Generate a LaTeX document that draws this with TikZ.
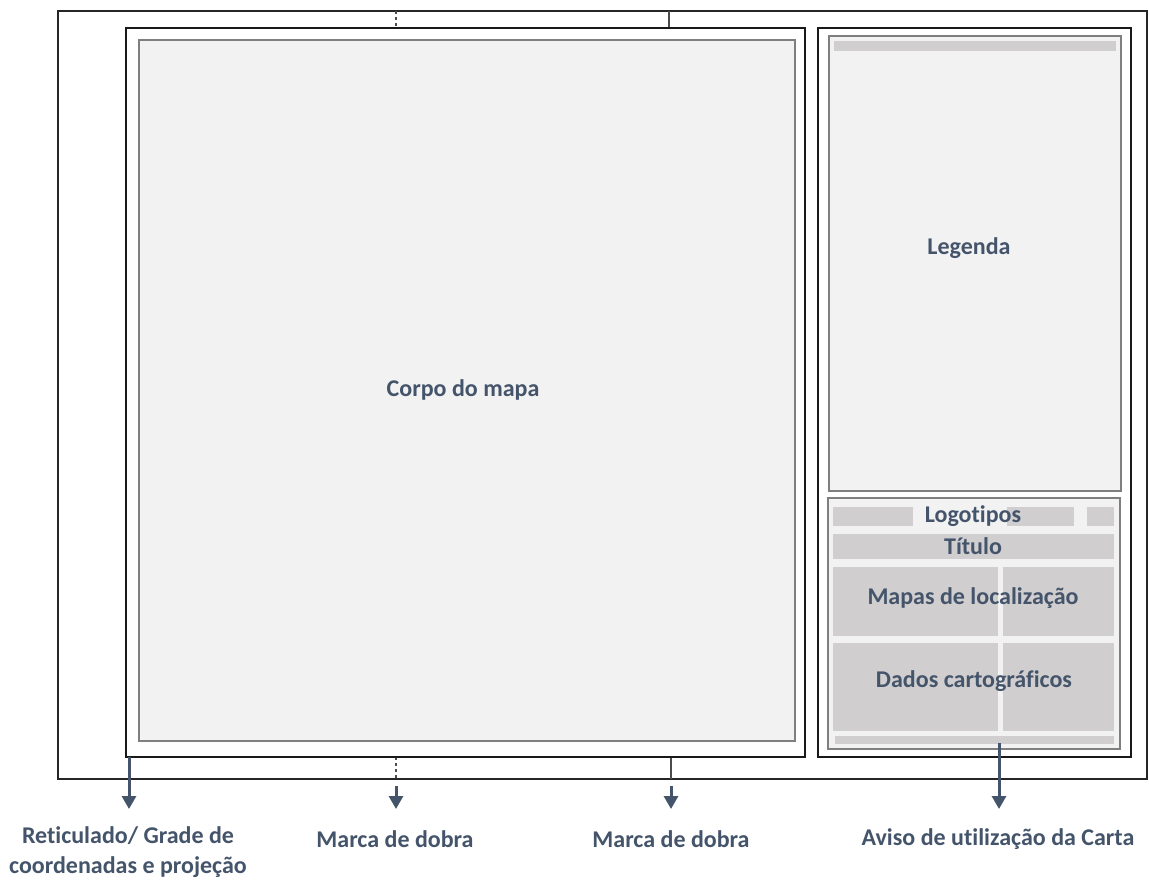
\documentclass[tikz,border=0pt]{standalone}
\usepackage{fontspec}
\setmainfont{Carlito}[Ligatures=NoCommon]
\usetikzlibrary{arrows.meta}
\definecolor{txt}{HTML}{44546A}
\definecolor{paper}{HTML}{F2F2F2}
\definecolor{block}{HTML}{D0CECE}
\definecolor{edge}{HTML}{7F7F7F}
\tikzset{
  frame/.style={draw=black!85, line width=1.6pt},
  thickframe/.style={draw=black!90, line width=2.2pt},
  panel/.style={draw=edge, line width=1.8pt, fill=paper},
  blk/.style={fill=block, draw=none},
  lbl/.style={text=txt, font=\fontsize{24}{29}\selectfont\bfseries, inner sep=0pt},
  pointer/.style={draw=txt, line width=3pt, -{Triangle[length=13pt,width=14pt]}},
  fold/.style={draw=black!70, line width=1.2pt},
}
\begin{document}
\begin{tikzpicture}[x=1pt,y=-1pt]
\useasboundingbox (0,0) rectangle (1149,881);
% outer sheet
\draw[frame] (58,11) rectangle (1147,779);
% fold marks
\draw[fold, dash pattern=on 3pt off 3pt] (396,11) -- (396,28);
\draw[fold, dash pattern=on 3pt off 3pt] (396,757) -- (396,779);
\draw[fold] (669,11) -- (669,28);
\draw[fold] (671,757) -- (671,779);
% map frame
\draw[thickframe, fill=white] (126,28) rectangle (805,757);
\draw[panel, line width=1.5pt] (139,40) rectangle (795,741);
\node[lbl] (corpo) at (463,390) {Corpo do mapa};
% right panel
\draw[thickframe, fill=white] (818,28) rectangle (1131,757);
\draw[panel] (829,36) rectangle (1121,491);
\fill[blk] (834,41) rectangle (1116,51);
\node[lbl] (legenda) at (969,248) {Legenda};
\draw[panel] (828,498) rectangle (1120,749);
% logos row
\fill[blk] (833,507) rectangle (913,526);
\fill[blk] (1007,507) rectangle (1074,526);
\fill[blk] (1087,507) rectangle (1114,526);
\node[lbl] (logo) at (973,516) {Logotipos};
% title
\fill[blk] (833,534) rectangle (1114,559);
\node[lbl] (titulo) at (973,546) {Título};
% location maps
\fill[blk] (833,567) rectangle (998,636);
\fill[blk] (1003,567) rectangle (1114,636);
\node[lbl] (mapas) at (973,598) {Mapas de localização};
% cartographic data
\fill[blk] (833,643) rectangle (998,731);
\fill[blk] (1003,643) rectangle (1114,731);
\node[lbl] (dados) at (974,681) {Dados cartográficos};
% notice bar
\fill[blk] (835,736) rectangle (1114,744);
% arrows
\coordinate (a1s) at (129,757);
\coordinate (a1e) at (129,809);
\coordinate (a2s) at (396,786);
\coordinate (a2e) at (396,809);
\coordinate (a3s) at (671,786);
\coordinate (a3e) at (671,809);
\coordinate (a4s) at (999,743);
\coordinate (a4e) at (999,809);
\draw[pointer] (a1s) -- (a1e);
\draw[pointer] (a2s) -- (a2e);
\draw[pointer] (a3s) -- (a3e);
\draw[pointer] (a4s) -- (a4e);
% bottom labels
\node[lbl, align=center, font=\fontsize{24}{30}\selectfont\bfseries] (ret) at (128,852) {Reticulado/ Grade de\\coordenadas e projeção};
\node[lbl] (dobra1) at (395,839) {Marca de dobra};
\node[lbl] (dobra2) at (671,839) {Marca de dobra};
\node[lbl] (aviso) at (998,839) {Aviso de utilização da Carta};
\end{tikzpicture}
\end{document}
